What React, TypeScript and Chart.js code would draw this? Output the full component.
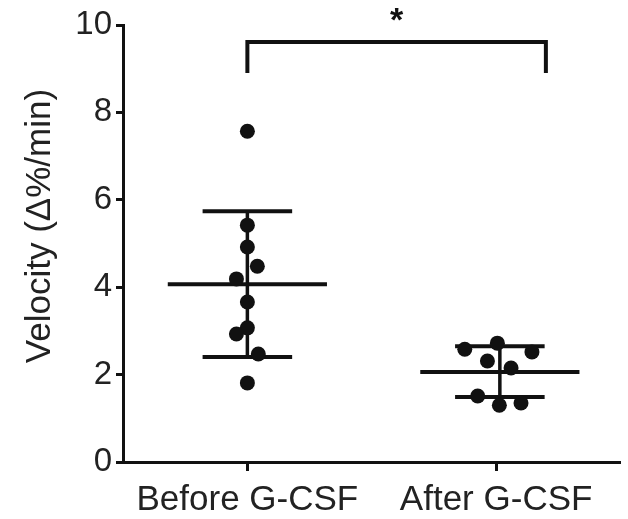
import React, { useEffect, useRef } from "react";
import { Chart, registerables } from "chart.js";

Chart.register(...registerables);

const categories = ["Before G-CSF", "After G-CSF"];
const categoryTicks = [1, 2];
const groupCenters = [1.0, 2.015];
const beforeValues = [7.57, 5.42, 4.92, 4.48, 4.19, 3.66, 3.07, 2.93, 2.47, 1.81];
const beforeJitter = [0, 0, 0, 0.04, -0.044, 0, 0, -0.044, 0.044, 0];
const afterValues = [2.72, 2.58, 2.52, 2.31, 2.15, 1.51, 1.35, 1.3];
const afterJitter = [-0.01, -0.141, 0.129, -0.05, 0.045, -0.089, 0.085, -0.002];
const means = [4.07, 2.06];
const sdUpper = [5.74, 2.65];
const sdLower = [2.4, 1.49];
const yTicks = [0, 2, 4, 6, 8, 10];
const bracketTop = 9.61;
const bracketBottom = 8.9;
const bracketEnds = [1.0, 2.2];
const sigLabel = "*";
const yTitle = "Velocity (Δ%/min)";
const yTitleCenterValue = 5.4;

const INK = "#111";
const FONT = "'Liberation Sans', Arial, sans-serif";

export default function App() {
  const ref = useRef<HTMLCanvasElement | null>(null);

  useEffect(() => {
    if (!ref.current) return;

    const pts = (vals: number[], jit: number[], c: number) =>
      vals.map((v, i) => ({ x: c + jit[i], y: v }));

    const lineDs = (data: { x: number; y: number }[], w = 4) => ({
      type: "scatter" as const,
      data,
      showLine: true,
      borderColor: INK,
      borderWidth: w,
      pointRadius: 0,
      fill: false,
      borderCapStyle: "butt" as const,
      borderJoinStyle: "miter" as const,
    });

    const statDatasets: any[] = [];
    groupCenters.forEach((c, i) => {
      statDatasets.push(lineDs([{ x: c - 0.32, y: means[i] }, { x: c + 0.32, y: means[i] }]));
      statDatasets.push(lineDs([{ x: c - 0.18, y: sdUpper[i] }, { x: c + 0.18, y: sdUpper[i] }]));
      statDatasets.push(lineDs([{ x: c - 0.18, y: sdLower[i] }, { x: c + 0.18, y: sdLower[i] }]));
      statDatasets.push(lineDs([{ x: c, y: sdLower[i] }, { x: c, y: sdUpper[i] }], 3.5));
    });

    const bracket = lineDs([
      { x: bracketEnds[0], y: bracketBottom },
      { x: bracketEnds[0], y: bracketTop },
      { x: bracketEnds[1], y: bracketTop },
      { x: bracketEnds[1], y: bracketBottom },
    ]);

    const textPlugin = {
      id: "texts",
      afterDraw(chart: any) {
        const { ctx, scales } = chart;
        const x = scales.x.getPixelForValue((bracketEnds[0] + bracketEnds[1]) / 2);
        const y = scales.y.getPixelForValue(bracketTop);
        ctx.save();
        ctx.fillStyle = INK;
        ctx.font = `bold 34px ${FONT}`;
        ctx.textAlign = "center";
        ctx.textBaseline = "alphabetic";
        ctx.fillText(sigLabel, x, y - 11);
        ctx.restore();

        ctx.save();
        ctx.fillStyle = "#222";
        ctx.font = `35px ${FONT}`;
        ctx.textAlign = "center";
        ctx.textBaseline = "middle";
        ctx.translate(40, scales.y.getPixelForValue(yTitleCenterValue));
        ctx.rotate(-Math.PI / 2);
        ctx.fillText(yTitle, 0, 0);
        ctx.restore();
      },
    };

    const chart = new Chart(ref.current, {
      type: "scatter",
      data: {
        datasets: [
          {
            data: pts(beforeValues, beforeJitter, groupCenters[0]),
            backgroundColor: INK,
            borderColor: INK,
            pointRadius: 7.5,
            borderWidth: 0,
          },
          {
            data: pts(afterValues, afterJitter, groupCenters[1]),
            backgroundColor: INK,
            borderColor: INK,
            pointRadius: 7.5,
            borderWidth: 0,
          },
          ...statDatasets,
          bracket,
        ],
      },
      options: {
        animation: false,
        responsive: true,
        maintainAspectRatio: false,
        layout: { padding: { top: 25, right: 0, left: 0, bottom: 0 } },
        plugins: { legend: { display: false }, tooltip: { enabled: false } },
        scales: {
          x: {
            type: "linear",
            min: 0.5,
            max: 2.5,
            afterBuildTicks: (axis: any) => {
              axis.ticks = categoryTicks.map((v) => ({ value: v }));
            },
            afterFit: (axis: any) => {
              axis.height = 57;
            },
            ticks: {
              callback: (v: any) => categories[categoryTicks.indexOf(Number(v))] ?? "",
              color: "#222",
              font: { family: FONT, size: 35 },
              padding: 8,
              maxRotation: 0,
              autoSkip: false,
            },
            grid: {
              display: true,
              drawOnChartArea: false,
              drawTicks: true,
              tickLength: 9,
              tickWidth: 3,
              tickColor: INK,
            },
            border: { display: true, color: INK, width: 3 },
          },
          y: {
            type: "linear",
            min: 0,
            max: 10,
            afterBuildTicks: (axis: any) => {
              axis.ticks = yTicks.map((v) => ({ value: v }));
            },
            afterFit: (axis: any) => {
              axis.width = 123;
            },
            ticks: {
              color: "#222",
              font: { family: FONT, size: 33 },
              padding: 4,
            },
            grid: {
              display: true,
              drawOnChartArea: false,
              drawTicks: true,
              tickLength: 7,
              tickWidth: 3,
              tickColor: INK,
            },
            border: { display: true, color: INK, width: 3 },
            title: { display: false },
          },
        },
      },
      plugins: [textPlugin],
    });

    return () => chart.destroy();
  }, []);

  return (
    <div style={{ position: "fixed", left: 0, top: 0, width: 628, height: 519, background: "#fff" }}>
      <canvas ref={ref} />
    </div>
  );
}
